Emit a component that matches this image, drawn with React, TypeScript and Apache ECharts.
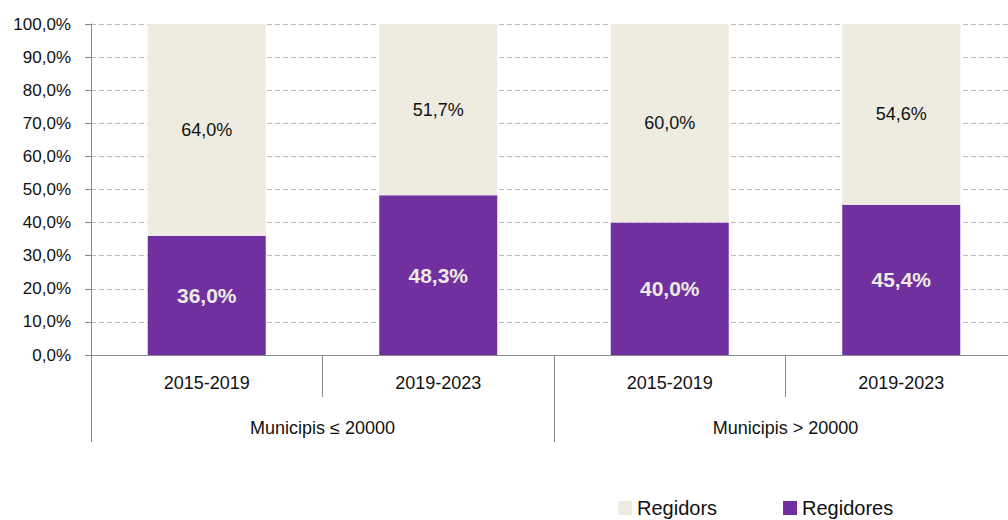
import React, { useEffect, useRef } from "react";
import * as echarts from "echarts";

const periods = ["2015-2019", "2019-2023", "2015-2019", "2019-2023"];
const groups = ["Municipis ≤ 20000", "Municipis > 20000"];
const regidores = [36.0, 48.3, 40.0, 45.4];
const regidors = [64.0, 51.7, 60.0, 54.6];
const seriesNames = ["Regidors", "Regidores"];

const FONT = "'Liberation Sans Narrow', 'Arial Narrow', Arial, 'Liberation Sans', sans-serif";
const fmt = (v: number) => v.toFixed(1).replace(".", ",") + "%";

export default function App() {
  const ref = useRef<HTMLDivElement>(null);
  useEffect(() => {
    document.body.style.margin = "0";
    document.body.style.overflow = "hidden";
    document.documentElement.style.overflow = "hidden";
    const chart = echarts.init(ref.current!, null, { renderer: "svg" });
    chart.setOption({
      animation: false,
      textStyle: { fontFamily: FONT },
      grid: { left: 91, top: 24, right: 0, height: 331, containLabel: false },
      legend: {
        data: seriesNames,
        left: 613,
        top: 493,
        itemGap: 66,
        itemWidth: 14,
        itemHeight: 14,
        icon: "rect",
        textStyle: { fontFamily: FONT, fontSize: 20, color: "#111", padding: [0, 0, 0, 0] },
      },
      xAxis: [
        {
          type: "category",
          data: periods,
          position: "bottom",
          axisLine: { show: true, lineStyle: { color: "#888", width: 1 } },
          axisTick: { show: true, length: 42, lineStyle: { color: "#888" } },
          axisLabel: { fontFamily: FONT, fontSize: 18, color: "#111", margin: 19 },
        },
        {
          type: "category",
          data: groups,
          position: "bottom",
          axisLine: { show: false },
          axisTick: { show: true, length: 87, lineStyle: { color: "#888" } },
          axisLabel: { fontFamily: FONT, fontSize: 18, color: "#111", margin: 64 },
        },
      ],
      yAxis: {
        type: "value",
        min: 0,
        max: 100,
        interval: 10,
        axisLine: { show: true, lineStyle: { color: "#888" } },
        axisTick: { show: true, length: 6, lineStyle: { color: "#888" } },
        axisLabel: {
          fontFamily: FONT,
          fontSize: 17,
          color: "#111",
          margin: 20,
          formatter: (v: number) => fmt(v),
        },
        splitLine: { show: true, lineStyle: { color: "#bbb", type: [5, 3] } },
      },
      series: [
        {
          name: "Regidores",
          type: "bar",
          stack: "total",
          xAxisIndex: 0,
          barWidth: 118,
          data: regidores,
          itemStyle: { color: "#7030A0" },
          label: {
            show: true,
            position: "inside",
            fontFamily: FONT,
            fontSize: 21,
            fontWeight: "bold",
            color: "#EEEBE1",
            formatter: (p: any) => fmt(p.value),
          },
        },
        {
          name: "Regidors",
          type: "bar",
          stack: "total",
          xAxisIndex: 0,
          barWidth: 118,
          data: regidors,
          itemStyle: { color: "#EEEBE1" },
          label: {
            show: true,
            position: "inside",
            fontFamily: FONT,
            fontSize: 18,
            color: "#111",
            formatter: (p: any) => fmt(p.value),
          },
        },
      ],
    });
    return () => chart.dispose();
  }, []);
  return <div ref={ref} style={{ width: 1017, height: 520 }} />;
}
